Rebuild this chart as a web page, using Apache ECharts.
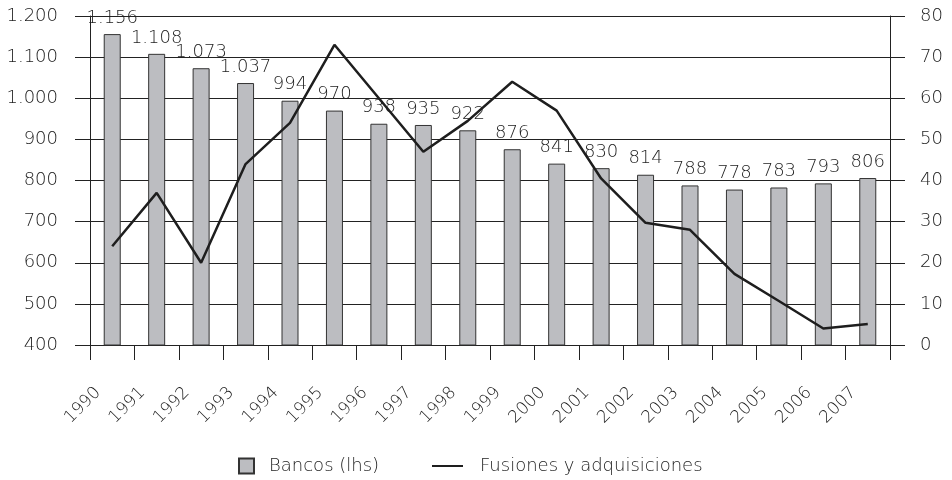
<!DOCTYPE html>
<html>
<head>
<meta charset="utf-8">
<script src="https://cdn.jsdelivr.net/npm/echarts@6/dist/echarts.min.js"></script>
<style>
  html, body { margin: 0; padding: 0; background: #fff; }
  #chart { width: 952px; height: 480px; }
</style>
</head>
<body>
<div id="chart"></div>
<script>
const years = ["1990", "1991", "1992", "1993", "1994", "1995", "1996", "1997", "1998",
  "1999", "2000", "2001", "2002", "2003", "2004", "2005", "2006", "2007"];
const bancos = [1156, 1108, 1073, 1037, 994, 970, 938, 935, 922, 876, 841, 830, 814, 788, 778, 783, 793, 806];
const fusiones = [24, 37, 20, 44, 54, 73, 60, 47, 54.5, 64, 57, 40.5, 29.7, 28, 17.3, 10.7, 4, 5.1];
const tickYears = years.concat([""]);

const fontFamily = "'DejaVu Sans', sans-serif";
const textColor = "#1c1c1c";

// numero con separador de miles "."
const fmt = (v) => String(v).replace(/\B(?=(\d{3})+(?!\d))/g, ".");

const chart = echarts.init(document.getElementById("chart"));

const option = {
  animation: false,
  backgroundColor: "#fff",
  textStyle: { fontFamily: fontFamily, color: textColor },
  grid: [
    { left: 90, right: 62, top: 16, bottom: 135 },
    // solo para las etiquetas de los años, desplazadas un poco a la derecha
    { left: 98, right: 54, top: 16, bottom: 135 }
  ],
  legend: [
    {
      data: [{ name: "Bancos (lhs)", icon: "rect" }],
      left: 233,
      top: 452,
      itemWidth: 15,
      itemHeight: 15,
      textStyle: { fontSize: 18, color: textColor, fontWeight: 200, padding: [0, 0, 0, 10] }
    },
    {
      data: [{ name: "Fusiones y adquisiciones", icon: "rect" }],
      left: 427,
      top: 452,
      itemWidth: 31,
      itemHeight: 2,
      textStyle: { fontSize: 18, color: textColor, fontWeight: 200, padding: [0, 0, 0, 12] }
    }
  ],
  xAxis: [
    {
      type: "category",
      gridIndex: 0,
      data: years,
      boundaryGap: true,
      axisLine: { lineStyle: { color: "#222", width: 1 } },
      axisTick: { show: true, length: 15, lineStyle: { color: "#222" } },
      axisLabel: { show: false }
    },
    {
      type: "category",
      gridIndex: 1,
      data: tickYears,
      boundaryGap: false,
      position: "bottom",
      axisLine: { show: false },
      axisTick: { show: false },
      axisLabel: {
        rotate: 45,
        margin: 45,
        interval: 0,
        fontSize: 17,
        fontWeight: 200,
        color: textColor
      }
    }
  ],
  yAxis: [
    {
      type: "value",
      gridIndex: 0,
      min: 400,
      max: 1200,
      interval: 100,
      position: "left",
      axisLine: { show: true, lineStyle: { color: "#222" } },
      axisTick: { show: true, length: 15, lineStyle: { color: "#222" } },
      splitLine: { show: true, lineStyle: { color: "#222", width: 1 } },
      axisLabel: { margin: 32, fontSize: 18, fontWeight: 200, color: textColor, formatter: fmt }
    },
    {
      type: "value",
      gridIndex: 0,
      min: 0,
      max: 80,
      interval: 10,
      position: "right",
      axisLine: { show: true, lineStyle: { color: "#222" } },
      axisTick: { show: true, length: 15, lineStyle: { color: "#222" } },
      splitLine: { show: false },
      axisLabel: { margin: 30, fontSize: 18, fontWeight: 200, color: textColor }
    },
    {
      type: "value",
      gridIndex: 1,
      show: false
    }
  ],
  series: [
    {
      name: "Bancos (lhs)",
      type: "bar",
      xAxisIndex: 0,
      yAxisIndex: 0,
      data: bancos,
      barWidth: 17,
      itemStyle: { color: "#bcbdc1", borderColor: "#333", borderWidth: 1 },
      label: {
        show: true,
        position: "top",
        distance: 7,
        fontSize: 18,
        fontWeight: 200,
        color: textColor,
        formatter: (p) => fmt(p.value)
      },
      z: 2
    },
    {
      name: "Fusiones y adquisiciones",
      type: "line",
      xAxisIndex: 0,
      yAxisIndex: 1,
      data: fusiones,
      showSymbol: false,
      symbol: "none",
      lineStyle: { color: "#1e1e1e", width: 2.5 },
      itemStyle: { color: "#1e1e1e" },
      z: 3
    }
  ]
};

chart.setOption(option);
</script>
</body>
</html>
